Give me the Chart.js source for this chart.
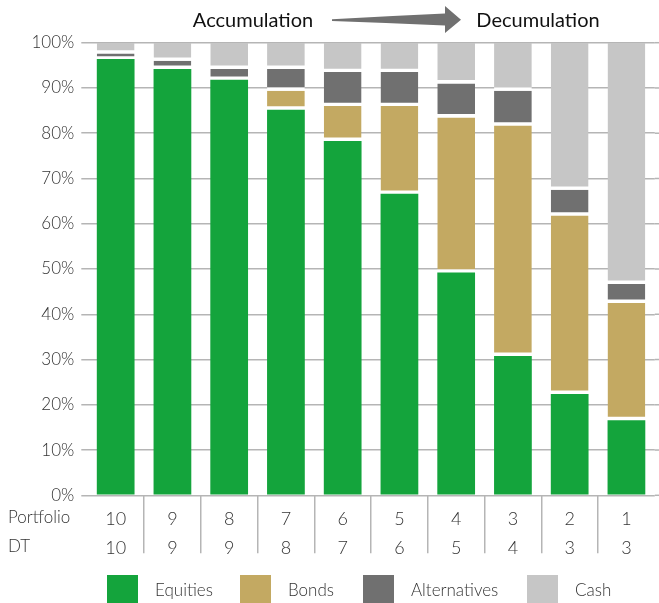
<!DOCTYPE html>
<html>
<head>
<meta charset="utf-8">
<script src="https://cdn.jsdelivr.net/npm/chart.js@4/dist/chart.umd.min.js"></script>
<style>
  html, body { margin: 0; padding: 0; background: #fff; }
  #wrap { width: 659px; height: 603px; position: relative; }
</style>
</head>
<body>
<div id="wrap"><canvas id="c"></canvas></div>
<script>
// ---- data ----
const portfolios = ['10', '9', '8', '7', '6', '5', '4', '3', '2', '1'];
const dtValues   = ['10', '9', '9', '8', '7', '6', '5', '4', '3', '3'];
const rowNames   = ['Portfolio', 'DT'];
const phases     = ['Accumulation', 'Decumulation'];
const seriesNames = ['Equities', 'Bonds', 'Alternatives', 'Cash'];
const equities     = [96.4, 94.2, 91.8, 85.2, 78.3, 66.6, 49.2, 30.8, 22.4, 16.6];
const bonds        = [0, 0, 0, 4.2, 7.7, 19.4, 34.3, 50.9, 39.4, 25.9];
const alternatives = [1.2, 1.8, 2.4, 4.8, 7.5, 7.5, 7.5, 7.7, 5.7, 4.2];
const cash         = [2.4, 4.0, 5.8, 5.8, 6.5, 6.5, 9.0, 10.6, 32.5, 53.3];
const yTicks = [0, 10, 20, 30, 40, 50, 60, 70, 80, 90, 100];

// ---- styles ----
const COLORS = ['#14a43c', '#c3a962', '#707070', '#c6c6c6'];
const GRID = '#b5b5b5';
const FONT = 'Lato, "Open Sans", sans-serif';
const TEXT = '#333333';

const seriesData = [equities, bonds, alternatives, cash];
const labels = portfolios.map((p, i) => [p, dtValues[i]]);

const datasets = seriesNames.map((name, i) => ({
  label: name,
  data: seriesData[i],
  backgroundColor: COLORS[i],
  borderColor: '#ffffff',
  borderWidth: i === 0 ? 0 : { top: 0, left: 0, right: 0, bottom: 3.4 },
  borderSkipped: false,
  barPercentage: 0.665,
  categoryPercentage: 1.0
}));

const overlay = {
  id: 'overlay',
  beforeDatasetsDraw(chart) {
    const ctx = chart.ctx, a = chart.chartArea, ys = chart.scales.y;
    ctx.save();
    ctx.strokeStyle = GRID;
    ctx.lineWidth = 1.5;
    ys.ticks.forEach(t => {
      const py = ys.getPixelForValue(t.value);
      ctx.beginPath();
      ctx.moveTo(a.right, py);
      ctx.lineTo(chart.width, py);
      ctx.stroke();
    });
    ctx.restore();
  },
  afterDraw(chart) {
    const ctx = chart.ctx, a = chart.chartArea;
    ctx.save();
    // Row names for multi-line x labels
    ctx.fillStyle = TEXT;
    ctx.font = '300 17px ' + FONT;
    ctx.textAlign = 'left';
    ctx.textBaseline = 'middle';
    rowNames.forEach((r, i) => {
      ctx.fillText(r, 8, a.bottom + 22.5 + i * 29);
    });

    // Phase titles and arrow
    ctx.fillStyle = '#111111';
    ctx.font = '400 20px ' + FONT;
    ctx.textAlign = 'center';
    ctx.textBaseline = 'middle';
    ctx.fillText(phases[0], 253, 21);
    ctx.fillText(phases[1], 538, 21);

    ctx.fillStyle = '#707070';
    ctx.beginPath();
    ctx.moveTo(332, 19.2);
    ctx.quadraticCurveTo(390, 16, 445, 13.5);
    ctx.lineTo(445, 6);
    ctx.lineTo(461, 19.8);
    ctx.lineTo(445, 33);
    ctx.lineTo(445, 25.5);
    ctx.quadraticCurveTo(390, 23, 332, 21);
    ctx.closePath();
    ctx.fill();

    // Legend
    const boxX = [107, 240, 363, 527];
    ctx.font = '300 17px ' + FONT;
    ctx.textAlign = 'left';
    ctx.textBaseline = 'middle';
    chart.data.datasets.forEach((ds, i) => {
      ctx.fillStyle = ds.backgroundColor;
      ctx.fillRect(boxX[i], 575, 31, 28);
      ctx.fillStyle = TEXT;
      ctx.fillText(ds.label, boxX[i] + 48, 591);
    });
    ctx.restore();
  }
};

new Chart(document.getElementById('c'), {
  type: 'bar',
  data: { labels, datasets },
  plugins: [overlay],
  options: {
    responsive: true,
    maintainAspectRatio: false,
    animation: false,
    layout: { padding: { top: 42.7, right: 4.2, bottom: 0, left: 0 } },
    plugins: { legend: { display: false }, tooltip: { enabled: false } },
    scales: {
      x: {
        stacked: true,
        border: { display: false },
        grid: {
          offset: true,
          drawOnChartArea: false,
          drawTicks: true,
          tickLength: 58,
          lineWidth: 1.5,
          color: ctx => (typeof ctx.index === 'number' && ctx.index >= 1) ? GRID : 'rgba(0,0,0,0)'
        },
        ticks: {
          color: TEXT,
          font: { family: FONT, size: 18, weight: '300', lineHeight: '29px' },
          padding: -49,
          maxRotation: 0,
          autoSkip: false
        },
        afterFit: s => { s.height = 107.7; }
      },
      y: {
        stacked: true,
        min: 0,
        max: 100,
        border: { display: false },
        afterBuildTicks: s => { s.ticks = yTicks.map(v => ({ value: v })); },
        grid: {
          color: GRID,
          lineWidth: 1.5,
          drawTicks: true,
          tickLength: 6
        },
        ticks: {
          color: TEXT,
          font: { family: FONT, size: 17, weight: '300' },
          padding: 7,
          callback: v => v + '%'
        },
        afterFit: s => { s.width = 87.3; }
      }
    }
  }
});
</script>
</body>
</html>
